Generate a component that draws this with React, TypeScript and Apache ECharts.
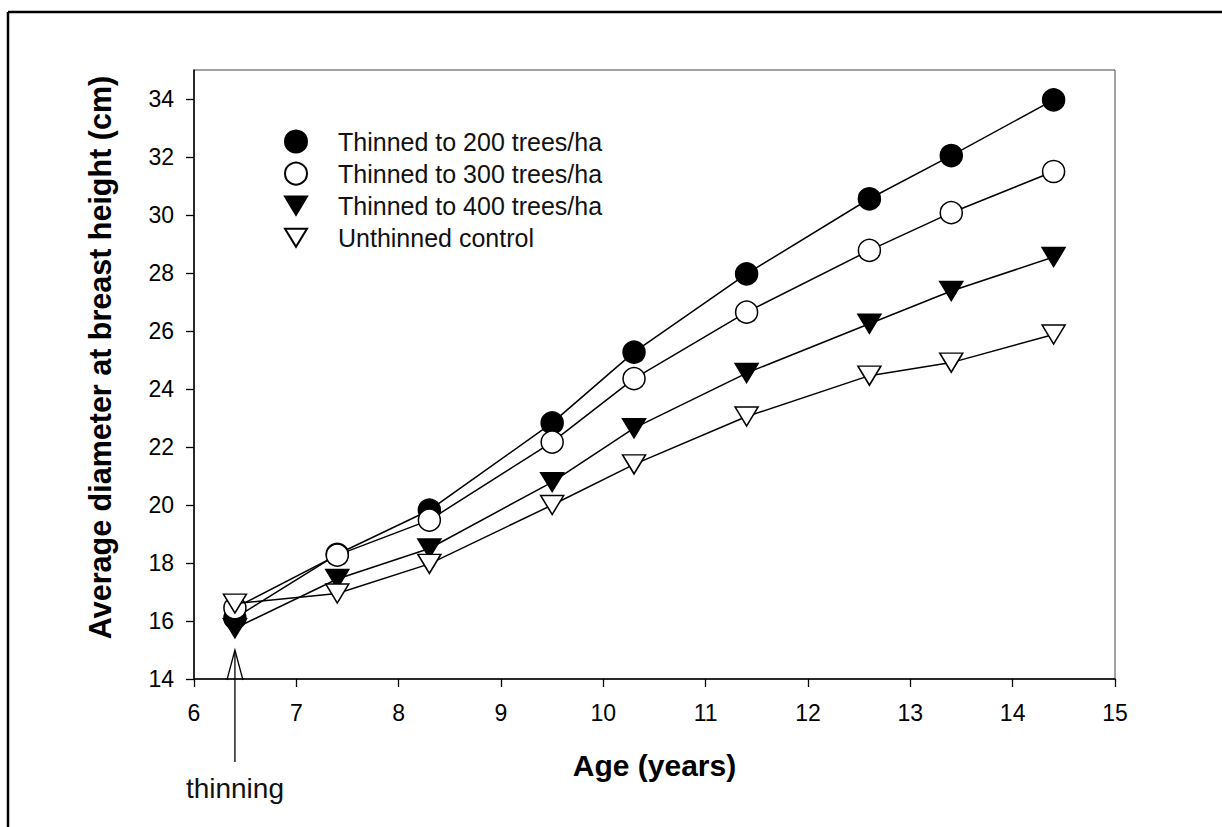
import React, { useEffect, useRef } from 'react';
import * as echarts from 'echarts';

// ---- data ----
const ages = [6.4, 7.4, 8.3, 9.5, 10.3, 11.4, 12.6, 13.4, 14.4];
const thinned200 = [16.1, 18.3, 19.82, 22.83, 25.27, 27.97, 30.56, 32.05, 33.97];
const thinned300 = [16.45, 18.27, 19.48, 22.17, 24.36, 26.65, 28.78, 30.08, 31.5];
const thinned400 = [15.75, 17.45, 18.5, 20.79, 22.65, 24.55, 26.25, 27.38, 28.55];
const unthinned = [16.6, 16.95, 17.97, 20.0, 21.4, 23.05, 24.46, 24.91, 25.88];
const seriesNames = [
  'Thinned to 200 trees/ha',
  'Thinned to 300 trees/ha',
  'Thinned to 400 trees/ha',
  'Unthinned control',
];
const xTicks = [6, 7, 8, 9, 10, 11, 12, 13, 14, 15];
const yTicks = [14, 16, 18, 20, 22, 24, 26, 28, 30, 32, 34];
const thinningAge = 6.4;
const xTitle = 'Age (years)';
const yTitle = 'Average diameter at breast height (cm)';
const thinningLabel = 'thinning';

const FONT = '"Liberation Sans", Arial, Helvetica, sans-serif';
const TRI = 'path://M0,0L23,0L11.5,19Z';

function zip(xs: number[], ys: number[]) {
  return xs.map((x, i) => [x, ys[i]]);
}

export default function App() {
  const ref = useRef<HTMLDivElement>(null);

  useEffect(() => {
    if (!ref.current) return;
    const chart = echarts.init(ref.current, undefined, { renderer: 'svg' });

    const lineStyle = { color: '#000', width: 1.5 };
    const filled = { color: '#000', borderColor: '#000', borderWidth: 1.5 };
    const open = { color: '#fff', borderColor: '#000', borderWidth: 1.5 };

    const option: any = {
      animation: false,
      backgroundColor: '#fff',
      textStyle: { fontFamily: FONT, color: '#000' },
      grid: {
        left: 194,
        top: 70,
        right: 107,
        bottom: 148,
        show: true,
        borderColor: '#444',
        borderWidth: 1,
        containLabel: false,
        outerBoundsMode: 'none',
      },
      legend: {
        orient: 'vertical',
        left: 284,
        top: 129,
        padding: 0,
        itemWidth: 22,
        itemHeight: 22,
        itemGap: 7.1,
        selectedMode: false,
        textStyle: {
          fontSize: 25,
          color: '#111',
          fontFamily: FONT,
          lineHeight: 22,
          padding: [0, 0, 0, 26],
        },
        data: [
          { name: seriesNames[0], icon: 'circle' },
          { name: seriesNames[1], icon: 'circle' },
          { name: seriesNames[2], icon: TRI },
          { name: seriesNames[3], icon: TRI },
        ],
      },
      xAxis: {
        type: 'value',
        min: 6,
        max: 15,
        interval: 1,
        name: xTitle,
        nameLocation: 'middle',
        nameGap: 71,
        nameTextStyle: { fontSize: 30, fontWeight: 'bold', color: '#000', fontFamily: FONT },
        axisLine: { show: true, lineStyle: { color: '#000', width: 1.5 } },
        axisTick: { show: true, length: 8, lineStyle: { color: '#000', width: 1.3 }, customValues: xTicks },
        axisLabel: { fontSize: 23, color: '#000', margin: 22, fontFamily: FONT, customValues: xTicks },
        splitLine: { show: false },
      },
      yAxis: {
        type: 'value',
        min: 14,
        max: 35,
        interval: 2,
        name: yTitle,
        nameLocation: 'middle',
        nameRotate: 90,
        nameGap: 79,
        nameTextStyle: {
          fontSize: 30.5,
          fontWeight: 'bold',
          color: '#000',
          fontFamily: FONT,
          padding: [0, 0, 0, 34],
        },
        axisLine: { show: true, lineStyle: { color: '#000', width: 1.5 } },
        axisTick: { show: true, length: 8, lineStyle: { color: '#000', width: 1.3 }, customValues: yTicks },
        axisLabel: {
          fontSize: 23,
          color: '#000',
          margin: 20,
          fontFamily: FONT,
          customValues: yTicks,
          formatter: (v: number) => (yTicks.indexOf(v) >= 0 ? String(v) : ''),
        },
        splitLine: { show: false },
      },
      series: [
        {
          name: seriesNames[0],
          type: 'line',
          data: zip(ages, thinned200),
          symbol: 'circle',
          symbolSize: 22,
          lineStyle,
          itemStyle: filled,
          z: 2,
        },
        {
          name: seriesNames[1],
          type: 'line',
          data: zip(ages, thinned300),
          symbol: 'circle',
          symbolSize: 22,
          lineStyle,
          itemStyle: open,
          z: 3,
        },
        {
          name: seriesNames[2],
          type: 'line',
          data: zip(ages, thinned400),
          symbol: TRI,
          symbolSize: [23, 19],
          lineStyle,
          itemStyle: filled,
          z: 4,
        },
        {
          name: seriesNames[3],
          type: 'line',
          data: zip(ages, unthinned),
          symbol: TRI,
          symbolSize: [23, 19],
          lineStyle,
          itemStyle: open,
          z: 5,
        },
      ],
    };

    chart.setOption(option);

    // annotation: arrow marking the thinning age, placed through the axes
    const ax = chart.convertToPixel({ xAxisIndex: 0 }, thinningAge) as number;
    const tipY = chart.convertToPixel({ yAxisIndex: 0 }, 15) as number;
    const baseY = chart.convertToPixel({ yAxisIndex: 0 }, 14) as number;

    chart.setOption({
      graphic: [
        {
          type: 'line',
          shape: { x1: 8, y1: 12, x2: 1240, y2: 12 },
          style: { stroke: '#000', lineWidth: 2.5 },
          silent: true,
        },
        {
          type: 'line',
          shape: { x1: 8, y1: 12, x2: 8, y2: 900 },
          style: { stroke: '#000', lineWidth: 2.5 },
          silent: true,
        },
        {
          type: 'line',
          shape: { x1: ax, y1: baseY + 83, x2: ax, y2: tipY + 1 },
          style: { stroke: '#000', lineWidth: 1.3 },
          z: 10,
          silent: true,
        },
        {
          type: 'polyline',
          shape: { points: [[ax - 8, baseY + 1], [ax, tipY], [ax + 8, baseY + 1]] },
          style: { stroke: '#000', lineWidth: 1.3, fill: null },
          z: 10,
          silent: true,
        },
        {
          type: 'text',
          x: ax,
          y: baseY + 109,
          style: {
            text: thinningLabel,
            font: `28px ${FONT}`,
            fill: '#111',
            align: 'center',
            verticalAlign: 'middle',
          },
          z: 10,
          silent: true,
        },
      ],
    });

    return () => chart.dispose();
  }, []);

  return (
    <div
      ref={ref}
      style={{ position: 'absolute', left: 0, top: 0, width: 1222, height: 827 }}
    />
  );
}
